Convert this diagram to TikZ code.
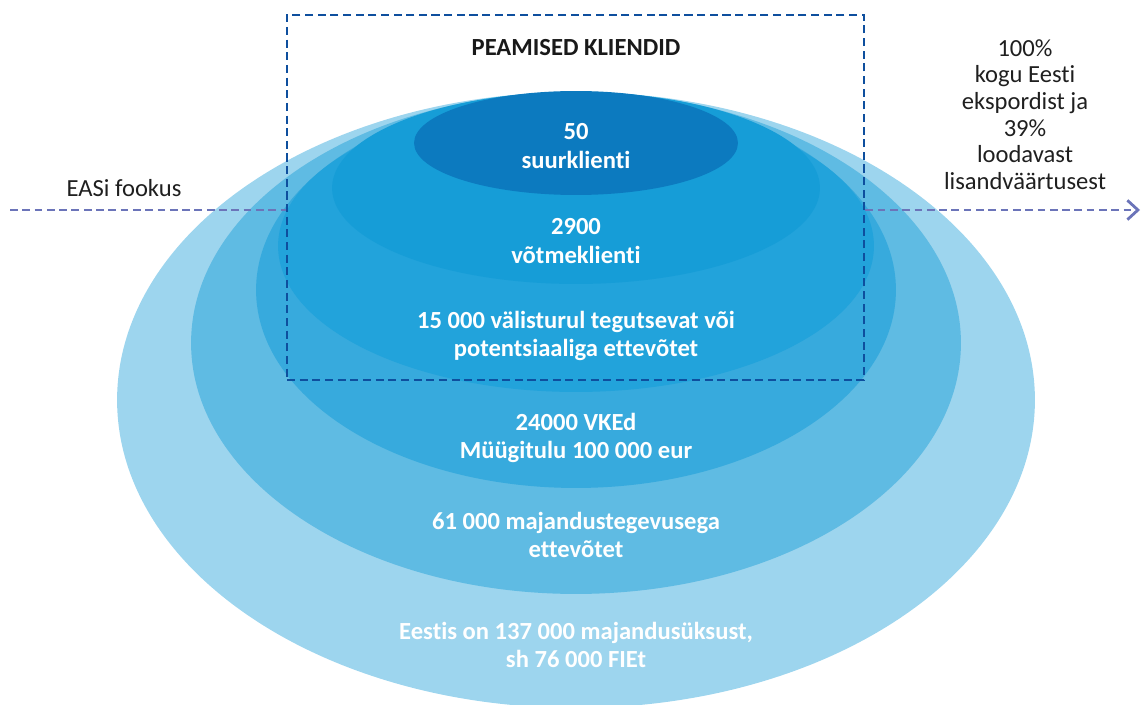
\documentclass[tikz,border=0pt]{standalone}
\usepackage{fontspec}
\setmainfont{Carlito}[Ligatures=NoCommon]
\usetikzlibrary{arrows.meta}
\definecolor{ringA}{HTML}{9DD5EE}
\definecolor{ringB}{HTML}{5FBBE3}
\definecolor{ringC}{HTML}{37AADD}
\definecolor{ringD}{HTML}{22A3DB}
\definecolor{ringE}{HTML}{169DD7}
\definecolor{ringF}{HTML}{0C7ABF}
\definecolor{boxblue}{HTML}{0E4F9E}
\definecolor{focusblue}{HTML}{6B74B9}
\begin{document}
\begin{tikzpicture}[x=0.02cm, y=-0.02cm,
  lbl/.style={text=white, font=\bfseries\fontsize{14}{16}\selectfont, align=center},
  side/.style={text=black!88, font=\fontsize{14}{15.2}\selectfont, align=center},
  focus/.style={draw=focusblue, line width=1.6pt, dash pattern=on 4.4pt off 2.6pt}]
\useasboundingbox (0,0) rectangle (1141,705);

\fill[ringA] (576,400) ellipse [x radius=9.18cm, y radius=6.16cm];
\fill[ringB] (576,343) ellipse [x radius=7.7cm, y radius=5.02cm];
\fill[ringC] (576,290) ellipse [x radius=6.4cm, y radius=3.96cm];
\fill[ringD] (576,246) ellipse [x radius=5.96cm, y radius=2.92cm];
\fill[ringE] (576,188) ellipse [x radius=4.88cm, y radius=1.92cm];
\fill[ringF] (576,143) ellipse [x radius=3.24cm, y radius=1.04cm];

\node[lbl] (L1) at (576,146) {50\\suurklienti};
\node[lbl] (L2) at (576,241) {2900\\võtmeklienti};
\node[lbl] (L3) at (576,336) {15 000 välisturul tegutsevat või\\potentsiaaliga ettevõtet};
\node[lbl] (L4) at (576,438) {24000 VKEd\\Müügitulu 100 000 eur};
\node[lbl] (L5) at (576,535) {61 000 majandustegevusega\\ettevõtet};
\node[lbl] (L6) at (576,645) {Eestis on 137 000 majandusüksust,\\sh 76 000 FIEt};

% peamised kliendid
\node[draw=boxblue, line width=1.6pt, dash pattern=on 4.6pt off 2.6pt,
  minimum width=11.54cm, minimum height=7.3cm, inner sep=0pt] (K) at (575.5,197.5) {};
\node[font=\bfseries\fontsize{14}{16}\selectfont, text=black!90] (H) at (576,48) {PEAMISED KLIENDID};

\coordinate (A) at (10,210);
\coordinate (B) at (1140,210);
\draw[focus] (A) -- (A -| K.west);
\draw[focus, -{Straight Barb[length=6pt,width=11pt]}] (K.east |- B) -- (B);

\node[side] (F) at (124,188) {EASi fookus};
\node[side] (S) at (1025,114.5) {100\%\\kogu Eesti\\ekspordist ja\\39\%\\loodavast\\lisandväärtusest};
\end{tikzpicture}
\end{document}
